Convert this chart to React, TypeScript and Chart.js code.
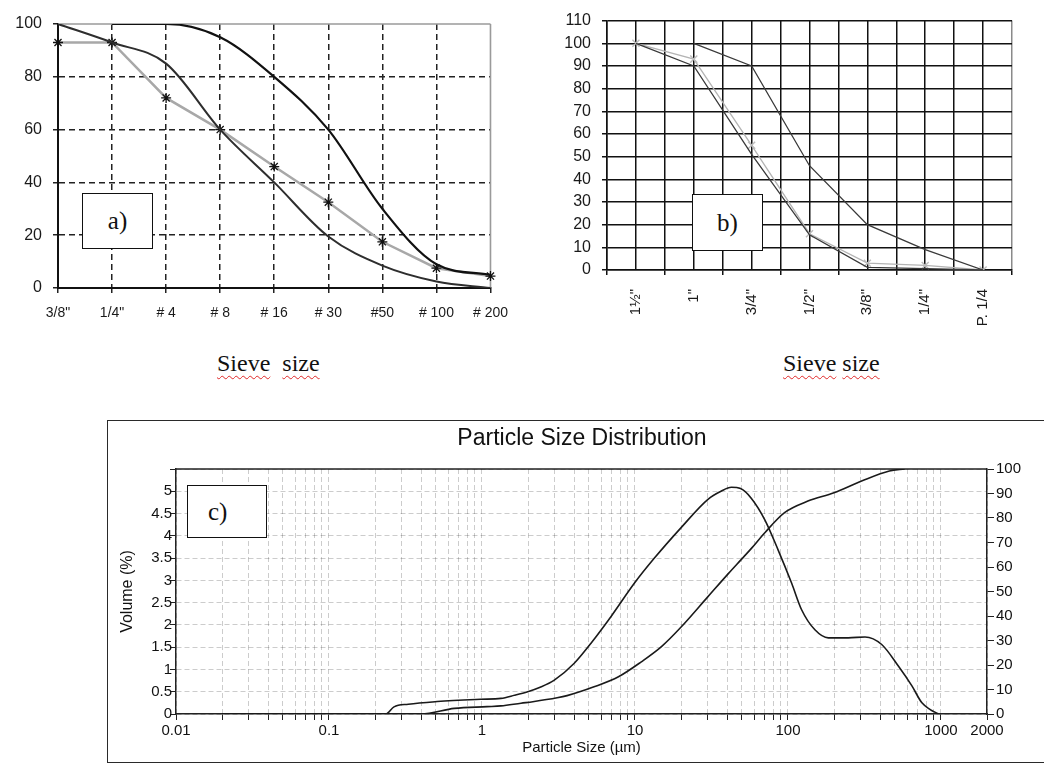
import React, { useEffect, useRef } from 'react';
import { Chart, registerables } from 'chart.js';

Chart.register(...registerables);
Chart.defaults.font.family = '"Liberation Sans", Arial, sans-serif';

// ---- (a) fine aggregate grading: percent passing per sieve ----
const sieveLabelsA = ['3/8"', '1/4"', '# 4', '# 8', '# 16', '# 30', '#50', '# 100', '# 200'];
const passingUpperA = [null, 100, 100, 95, 80, 60, 30, 9, 5];
const passingLowerA = [100, 93, 85, 60, 40, 19.5, 8.5, 2.5, 0];
const passingSampleA = [93, 93, 72, 60, 46, 32.5, 17.5, 7.5, 4.5];

// ---- (b) coarse aggregate grading ----
const sieveLabelsB = ['1½"', '1"', '3/4"', '1/2"', '3/8"', '1/4"', 'P. 1/4'];
const passingUpperB = [null, 100, 90, 46, 20, 9, 0];
const passingLowerB = [100, 90, 51, 15.5, 1.2, 0.6, 0];
const passingSampleB = [100, 93, 55, 16, 3, 2, 0];

// ---- (c) laser particle size distribution ----
const freqSizes = [0.02, 0.235, 0.266, 0.33, 0.51, 0.98, 1.33, 1.63, 1.99, 2.4, 2.97, 4.01, 5.16, 6.98, 9.93, 13.4, 20.1, 30, 36.5, 42.7, 49, 57.7, 70.6, 86.3, 105.6, 122.8, 150, 183.5, 248, 319, 410, 528, 646, 751, 851, 966];
const freqVolume = [0, 0, 0.16, 0.22, 0.28, 0.33, 0.35, 0.42, 0.5, 0.6, 0.76, 1.14, 1.59, 2.19, 2.94, 3.5, 4.19, 4.82, 5.0, 5.09, 5.06, 4.84, 4.36, 3.68, 2.94, 2.34, 1.89, 1.71, 1.71, 1.73, 1.56, 1.07, 0.63, 0.25, 0.1, 0];
const cumSizes = [0.02, 0.4, 0.66, 1.08, 1.33, 1.8, 2.15, 3.1, 3.6, 5.4, 7.8, 11, 14.9, 20.1, 30, 40.9, 49.6, 57.7, 70.6, 95, 135, 200, 303, 460, 580];
const cumVolume = [0, 0, 2.3, 3.0, 3.3, 4.4, 5.0, 6.6, 7.5, 11.1, 15.2, 21.3, 27.5, 35.6, 47.9, 57.4, 63.1, 67.6, 74, 82.2, 86.9, 90.3, 95.1, 99.2, 100];
const sizeDecades = [0.01, 0.1, 1, 10, 100, 1000];
const sizeTickLabels = [0.01, 0.1, 1, 10, 100, 1000, 2000];

const sizeTicks = sizeDecades
  .flatMap((d) => [1, 2, 3, 4, 5, 6, 7, 8, 9].map((m) => d * m))
  .filter((v) => v <= 2000);

const isWhole = (v: number) => Math.abs(v - Math.round(v)) < 1e-6;
const toPoints = (arr: (number | null)[]) =>
  arr.map((y, x) => ({ x, y })).filter((p) => p.y !== null);

// draws solid frame edges (top / right) around the plot area
const edgeLines = {
  id: 'edgeLines',
  beforeDatasetsDraw(chart: any, _args: any, opts: any) {
    const { ctx, chartArea } = chart;
    const { left, right, top, bottom } = chartArea;
    ctx.save();
    ctx.strokeStyle = opts.color || '#999';
    ctx.lineWidth = opts.width || 1;
    ctx.beginPath();
    if (opts.top) {
      ctx.moveTo(left, top);
      ctx.lineTo(right, top);
    }
    if (opts.right) {
      ctx.moveTo(right, top);
      ctx.lineTo(right, bottom);
    }
    ctx.stroke();
    ctx.restore();
  },
};

const squiggle: React.CSSProperties = {
  textDecorationLine: 'underline',
  textDecorationStyle: 'wavy',
  textDecorationColor: '#e02828',
  textDecorationThickness: '1px',
  textUnderlineOffset: '4px',
};

const panelBox = (left: number, top: number, w: number, h: number): React.CSSProperties => ({
  position: 'absolute',
  left,
  top,
  width: w,
  height: h,
  boxSizing: 'border-box',
  border: '1.3px solid #111',
  background: '#fff',
  display: 'flex',
  alignItems: 'center',
  justifyContent: 'center',
  fontFamily: '"Liberation Serif", "Times New Roman", serif',
  fontSize: 25,
  color: '#111',
  zIndex: 3,
});

export default function App() {
  const refA = useRef<HTMLCanvasElement>(null);
  const refB = useRef<HTMLCanvasElement>(null);
  const refC = useRef<HTMLCanvasElement>(null);

  useEffect(() => {
    const charts: Chart[] = [];

    // (a)
    charts.push(
      new Chart(refA.current!, {
        type: 'line',
        data: {
          labels: sieveLabelsA,
          datasets: [
            {
              data: passingUpperA as any,
              borderColor: '#111',
              borderWidth: 2.2,
              pointRadius: 0,
              cubicInterpolationMode: 'monotone',
            },
            {
              data: passingLowerA,
              borderColor: '#2e2e2e',
              borderWidth: 2,
              pointRadius: 0,
              cubicInterpolationMode: 'monotone',
            },
            {
              data: passingSampleA,
              borderColor: '#a8a8a8',
              borderWidth: 2.5,
              pointStyle: 'star',
              pointRadius: 5,
              pointBorderColor: '#111',
              pointBackgroundColor: '#111',
              pointBorderWidth: 1.3,
              tension: 0,
            },
          ],
        },
        options: {
          animation: false,
          responsive: false,
          layout: { padding: { top: 24, right: 27, left: 0, bottom: 0 } },
          plugins: {
            legend: { display: false },
            tooltip: { enabled: false },
            edgeLines: { top: true, right: true, color: '#9a9a9a', width: 1.6 },
          } as any,
          scales: {
            x: {
              type: 'category',
              offset: false,
              grid: {
                color: (c: any) => (c.index === 0 || c.index === sieveLabelsA.length - 1 ? 'transparent' : '#222'),
                lineWidth: 1.5,
                tickColor: '#222',
                tickLength: 5,
              },
              border: { color: '#111', width: 2, dash: [6, 4] },
              ticks: { font: { size: 14 }, color: '#1a1a1a', padding: 12, maxRotation: 0, autoSkip: false },
              afterFit: (s: any) => {
                s.height = 42;
              },
            },
            y: {
              min: 0,
              max: 100,
              ticks: { stepSize: 20, font: { size: 16 }, color: '#1a1a1a', padding: 11 },
              grid: {
                color: (c: any) => (c.tick && (c.tick.value === 0 || c.tick.value === 100) ? 'transparent' : '#222'),
                lineWidth: 1.5,
                tickColor: '#222',
                tickLength: 5,
              },
              border: { color: '#111', width: 2, dash: [6, 4] },
              afterFit: (s: any) => {
                s.width = 58;
              },
            },
          },
        },
        plugins: [edgeLines],
      } as any)
    );

    // (b)
    charts.push(
      new Chart(refB.current!, {
        type: 'line',
        data: {
          datasets: [
            { data: toPoints(passingUpperB), borderColor: '#3a3a3a', borderWidth: 1.3, pointRadius: 0 },
            { data: toPoints(passingLowerB), borderColor: '#3a3a3a', borderWidth: 1.3, pointRadius: 0 },
            {
              data: toPoints(passingSampleB),
              borderColor: '#b4b4b4',
              borderWidth: 1.3,
              pointStyle: 'crossRot',
              pointRadius: 5,
              pointBorderColor: '#bdbdbd',
              pointBorderWidth: 1.4,
            },
          ],
        },
        options: {
          animation: false,
          responsive: false,
          layout: { padding: { top: 13.5, right: 12, left: 0, bottom: 0 } },
          plugins: { legend: { display: false }, tooltip: { enabled: false } },
          scales: {
            x: {
              type: 'linear',
              min: -0.5,
              max: 6.5,
              grid: {
                color: (c: any) => (c.tick && c.tick.value > 6.4 ? '#8a8a8a' : '#111'),
                lineWidth: 1.5,
                tickColor: (c: any) => (c.tick && isWhole(c.tick.value) ? 'transparent' : '#111'),
                tickLength: 5,
              },
              border: { color: '#111', width: 1.5 },
              ticks: {
                stepSize: 0.5,
                autoSkip: false,
                minRotation: 90,
                maxRotation: 90,
                font: { size: 15 },
                color: '#1a1a1a',
                padding: 14,
                callback: (v: any) => (isWhole(v) ? sieveLabelsB[Math.round(v)] : ''),
              },
              afterFit: (s: any) => {
                s.height = 75;
              },
            },
            y: {
              min: 0,
              max: 110,
              ticks: { stepSize: 10, font: { size: 16 }, color: '#1a1a1a', padding: 11 },
              grid: { color: '#111', lineWidth: 1.5, tickColor: '#111', tickLength: 5 },
              border: { color: '#111', width: 1.5 },
              afterFit: (s: any) => {
                s.width = 77;
              },
            },
          },
        },
      } as any)
    );

    // (c)
    charts.push(
      new Chart(refC.current!, {
        type: 'line',
        data: {
          datasets: [
            {
              data: freqSizes.map((x, i) => ({ x, y: freqVolume[i] })),
              yAxisID: 'y',
              borderColor: '#1a1a1a',
              borderWidth: 1.6,
              pointRadius: 0,
              cubicInterpolationMode: 'monotone',
            },
            {
              data: cumSizes.map((x, i) => ({ x, y: cumVolume[i] })),
              yAxisID: 'y1',
              borderColor: '#1a1a1a',
              borderWidth: 1.6,
              pointRadius: 0,
              cubicInterpolationMode: 'monotone',
            },
          ],
        },
        options: {
          animation: false,
          responsive: false,
          layout: { padding: 0 },
          plugins: {
            legend: { display: false },
            tooltip: { enabled: false },
            title: {
              display: true,
              text: 'Particle Size Distribution',
              color: '#111',
              font: { size: 23, weight: 'normal' },
              padding: { top: 0, bottom: 16.4 },
            },
            edgeLines: { top: true, right: false, color: '#222', width: 1.5 },
          } as any,
          scales: {
            x: {
              type: 'logarithmic',
              min: 0.01,
              max: 2000,
              afterBuildTicks: (s: any) => {
                s.ticks = sizeTicks.map((value) => ({ value }));
              },
              ticks: {
                autoSkip: false,
                maxRotation: 0,
                font: { size: 15 },
                color: '#111',
                padding: 2,
                callback: (v: any) => (sizeTickLabels.includes(v) ? String(v) : ''),
              },
              grid: { color: 'rgba(0,0,0,0.2)', lineWidth: 1, tickColor: '#222', tickLength: 6 },
              border: { color: '#222', width: 1.5, dash: [5, 3] },
              title: {
                display: true,
                text: 'Particle Size (µm)',
                color: '#111',
                font: { size: 15 },
                padding: { top: 0, bottom: 8 },
              },
              afterFit: (s: any) => {
                s.height = 51;
              },
            },
            y: {
              position: 'left',
              min: 0,
              max: 5.5,
              ticks: {
                stepSize: 0.5,
                font: { size: 15 },
                color: '#111',
                padding: -2,
                callback: (v: any) => (v > 5.01 ? '' : String(v)),
              },
              grid: { color: 'rgba(0,0,0,0.2)', lineWidth: 1, tickColor: '#222', tickLength: 6 },
              border: { color: '#222', width: 1.5, dash: [5, 3] },
              title: {
                display: true,
                text: 'Volume (%)',
                color: '#111',
                font: { size: 16 },
                padding: { top: 0, bottom: 0 },
              },
              afterFit: (s: any) => {
                s.width = 58;
              },
            },
            y1: {
              position: 'right',
              min: 0,
              max: 100,
              ticks: { stepSize: 10, font: { size: 15 }, color: '#111', padding: 2 },
              grid: { drawOnChartArea: false, tickColor: '#222', tickLength: 7 },
              border: { color: '#222', width: 1.5 },
              afterFit: (s: any) => {
                s.width = 59;
              },
            },
          },
        },
        plugins: [edgeLines],
      } as any)
    );

    return () => charts.forEach((c) => c.destroy());
  }, []);

  return (
    <div
      style={{
        position: 'fixed',
        left: 0,
        top: 0,
        width: 1044,
        height: 766,
        overflow: 'hidden',
        background: '#fff',
      }}
    >
      <canvas ref={refA} width={520} height={330} style={{ position: 'absolute', left: 0, top: 0 }} />
      <canvas ref={refB} width={514} height={345} style={{ position: 'absolute', left: 530, top: 0 }} />

      <div
        style={{
          position: 'absolute',
          left: 107,
          top: 420,
          width: 1000,
          height: 343,
          boxSizing: 'border-box',
          border: '1.5px solid #2a2a2a',
        }}
      />
      <canvas ref={refC} width={928} height={340} style={{ position: 'absolute', left: 118, top: 425 }} />

      <div
        style={{
          position: 'absolute',
          left: 217,
          top: 349,
          fontFamily: '"Liberation Serif", "Times New Roman", serif',
          fontSize: 24,
          lineHeight: '28px',
          color: '#111',
          whiteSpace: 'pre',
        }}
      >
        <span style={squiggle}>Sieve</span>
        {'  '}
        <span style={squiggle}>size</span>
      </div>
      <div
        style={{
          position: 'absolute',
          left: 783,
          top: 349,
          fontFamily: '"Liberation Serif", "Times New Roman", serif',
          fontSize: 24,
          lineHeight: '28px',
          color: '#111',
          whiteSpace: 'pre',
        }}
      >
        <span style={squiggle}>Sieve</span> <span style={squiggle}>size</span>
      </div>

      <div style={panelBox(82, 193, 71, 56)}>a)</div>
      <div style={panelBox(692, 194, 71, 57)}>b)</div>
      <div style={{ ...panelBox(187, 485, 80, 53), justifyContent: 'flex-start', paddingLeft: 20 }}>c)</div>
    </div>
  );
}
